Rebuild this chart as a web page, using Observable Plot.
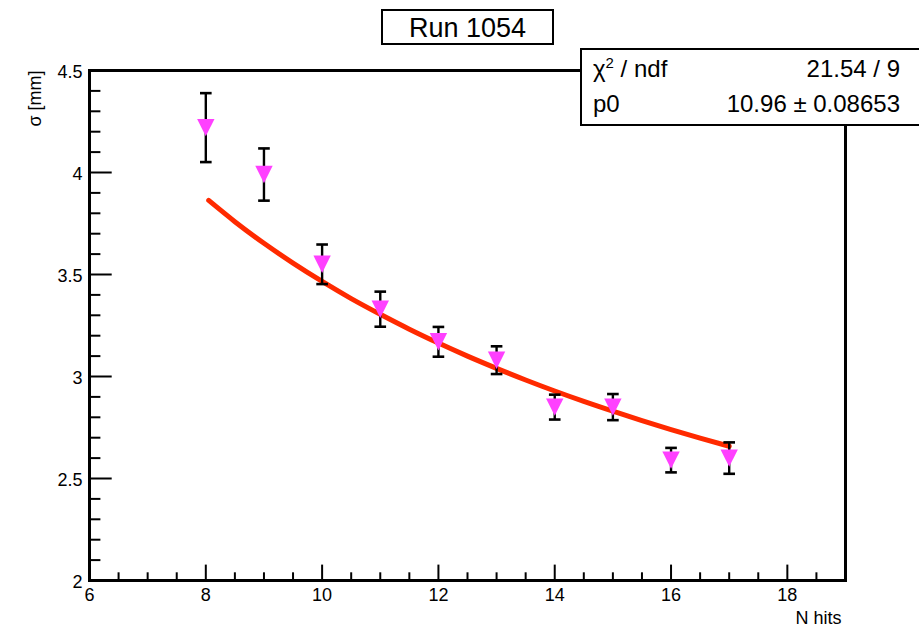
<!DOCTYPE html>
<html><head><meta charset="utf-8">
<script src="https://cdn.jsdelivr.net/npm/d3@7"></script>
<script src="https://cdn.jsdelivr.net/npm/@observablehq/plot@0.6"></script>
<style>
body{margin:0;background:#fff;}
#wrap{position:relative;width:919px;height:629px;overflow:hidden;font-family:"Liberation Sans",Arial,sans-serif;color:#000;}
.box{position:absolute;background:#fff;border:2px solid #000;box-sizing:border-box;}
.t{position:absolute;white-space:nowrap;line-height:1;}
</style></head><body>
<div id="wrap"></div>
<script>
// measured points
const nHits    = [8, 9, 10, 11, 12, 13, 14, 15, 16, 17];
const sigma    = [4.22, 3.99, 3.55, 3.33, 3.17, 3.08, 2.85, 2.85, 2.59, 2.60];
const sigmaErr = [0.169, 0.128, 0.097, 0.086, 0.073, 0.068, 0.061, 0.064, 0.060, 0.077];
// fit curve
const fitX = [8.05, 8.5, 9, 9.5, 10, 10.5, 11, 11.5, 12, 12.5, 13, 13.5, 14, 14.5, 15, 15.5, 16, 16.5, 17];
const fitY = [3.863, 3.759, 3.653, 3.556, 3.466, 3.382, 3.305, 3.232, 3.164, 3.100, 3.040, 2.983, 2.929, 2.878, 2.830, 2.784, 2.740, 2.698, 2.658];
// axes
const xMajor = [6, 8, 10, 12, 14, 16, 18];
const xMinor = [6.5, 7, 7.5, 8.5, 9, 9.5, 10.5, 11, 11.5, 12.5, 13, 13.5, 14.5, 15, 15.5, 16.5, 17, 17.5, 18.5];
const yMajor = [2, 2.5, 3, 3.5, 4, 4.5];
const yMinor = [2.1, 2.2, 2.3, 2.4, 2.6, 2.7, 2.8, 2.9, 3.1, 3.2, 3.3, 3.4, 3.6, 3.7, 3.8, 3.9, 4.1, 4.2, 4.3, 4.4];
const xTitle = "N hits";
const yTitle = "σ [mm]";
const titleText = "Run 1054";
const statLabels = ["χ<sup style=\"font-size:15px;vertical-align:9px;line-height:0\">2</sup> / ndf", "p0"];
const statValues = ["21.54 / 9", "10.96 ± 0.08653"];

const points = nHits.map((x, i) => ({x, y: sigma[i], e: sigmaErr[i]}));
const fit = fitX.map((x, i) => ({x, y: fitY[i]}));

const invTri = {
  draw(ctx, size) {
    const r = Math.sqrt(size / Math.PI);
    ctx.moveTo(-r, -r);
    ctx.lineTo(r, -r);
    ctx.lineTo(0, r);
    ctx.closePath();
  }
};

const chart = Plot.plot({
  width: 919, height: 629,
  marginLeft: 89, marginRight: 74, marginTop: 70, marginBottom: 49,
  x: {domain: [6, 19], label: null},
  y: {domain: [2, 4.5], label: null},
  style: {fontFamily: "'Liberation Sans', Arial, sans-serif", fontSize: "18px", color: "#000", background: "#fff", overflow: "visible"},
  marks: [
    Plot.line(fit, {x: "x", y: "y", stroke: "#ff2a00", strokeWidth: 5, curve: "monotone-x"}),
    Plot.ruleX(points, {x: "x", y1: d => d.y - d.e, y2: d => d.y + d.e, stroke: "#000", strokeWidth: 2.4}),
    Plot.link(points, {x1: d => d.x - 0.1, x2: d => d.x + 0.1, y1: d => d.y + d.e, y2: d => d.y + d.e, stroke: "#000", strokeWidth: 2.6}),
    Plot.link(points, {x1: d => d.x - 0.1, x2: d => d.x + 0.1, y1: d => d.y - d.e, y2: d => d.y - d.e, stroke: "#000", strokeWidth: 2.6}),
    Plot.dot(points, {x: "x", y: "y", symbol: invTri, r: 8.7, fill: "#ff40ff", stroke: "none"}),
    Plot.axisX(xMajor, {tickSize: -15.4, strokeWidth: 2, text: null, label: null}),
    Plot.axisX(xMinor, {tickSize: -7.7, strokeWidth: 2, text: null, label: null}),
    Plot.axisY(yMajor, {tickSize: -22.7, strokeWidth: 2, text: null, label: null}),
    Plot.axisY(yMinor, {tickSize: -11.4, strokeWidth: 2, text: null, label: null}),
    Plot.axisX(xMajor, {tickSize: 0, tickPadding: 8, fontSize: 18, tickFormat: d => String(d), label: null}),
    Plot.axisY(yMajor, {tickSize: 0, tickPadding: 7, dy: 2, fontSize: 18, tickFormat: d => String(d), label: null}),
    Plot.frame({stroke: "#000", strokeWidth: 3}),
    Plot.text([yTitle], {frameAnchor: "top-left", dx: -54, rotate: -90, textAnchor: "end", lineAnchor: "middle", fontSize: 18}),
    Plot.text([xTitle], {frameAnchor: "bottom-right", dx: -4, dy: 43, textAnchor: "end", lineAnchor: "bottom", fontSize: 18})
  ]
});

const wrap = document.getElementById("wrap");
wrap.appendChild(chart);

// title box
const tb = document.createElement("div");
tb.className = "box";
Object.assign(tb.style, {left: "381px", top: "9px", width: "173px", height: "36px"});
wrap.appendChild(tb);
const tt = document.createElement("div");
tt.className = "t";
tt.textContent = titleText;
Object.assign(tt.style, {left: "381px", width: "173px", textAlign: "center", top: "15px", fontSize: "27px"});
wrap.appendChild(tt);

// stats box
const sb = document.createElement("div");
sb.className = "box";
Object.assign(sb.style, {left: "580px", top: "48px", width: "360px", height: "78px"});
wrap.appendChild(sb);
statLabels.forEach((lab, i) => {
  const l = document.createElement("div");
  l.className = "t";
  l.innerHTML = lab;
  Object.assign(l.style, {left: "593px", top: (57 + i * 35) + "px", fontSize: "24px"});
  wrap.appendChild(l);
  const v = document.createElement("div");
  v.className = "t";
  v.textContent = statValues[i];
  Object.assign(v.style, {right: "19px", top: (57 + i * 35) + "px", fontSize: "24px", textAlign: "right"});
  wrap.appendChild(v);
});
</script>
</body></html>
